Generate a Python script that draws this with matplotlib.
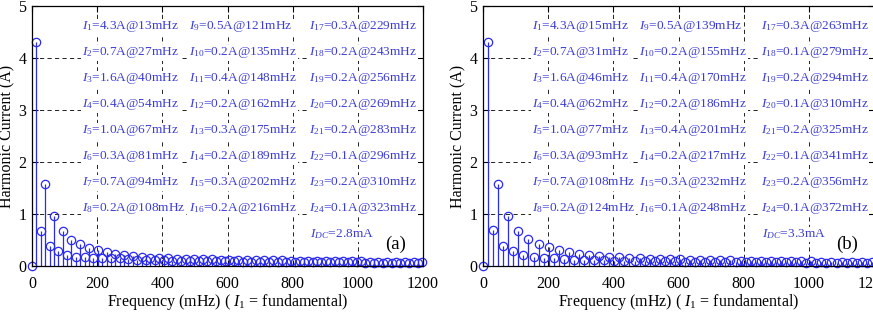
import matplotlib
matplotlib.use("Agg")
import matplotlib.pyplot as plt
import numpy as np

plt.rcParams['font.family'] = ['Liberation Serif', 'DejaVu Serif']
plt.rcParams['mathtext.fontset'] = 'custom'
plt.rcParams['mathtext.rm'] = 'Liberation Serif'
plt.rcParams['mathtext.it'] = 'Liberation Serif:italic'

# ---- data ----
f1_a = 13.46          # fundamental, mHz
f1_b = 15.5
dc_a = 0.0028         # A
dc_b = 0.0033

amps_a = [4.30, 0.68, 1.58, 0.38, 0.97, 0.29, 0.67, 0.22, 0.50, 0.18, 0.42, 0.17,
          0.34, 0.16, 0.30, 0.15, 0.27, 0.15, 0.23, 0.15, 0.21, 0.13, 0.19, 0.12,
          0.17, 0.12, 0.16, 0.11, 0.15, 0.11, 0.15, 0.10, 0.14, 0.10, 0.14, 0.10,
          0.13, 0.10, 0.13, 0.09, 0.13, 0.09, 0.12, 0.09,
          0.12, 0.09, 0.12, 0.08, 0.12, 0.08, 0.11, 0.08, 0.11, 0.08, 0.11, 0.08,
          0.11, 0.08, 0.10,
          0.08, 0.10, 0.07, 0.10, 0.07, 0.10, 0.07, 0.09, 0.07, 0.09, 0.07, 0.09,
          0.07, 0.09, 0.07, 0.09, 0.06, 0.08, 0.06, 0.08, 0.06, 0.08, 0.06, 0.08,
          0.06, 0.08, 0.06, 0.08, 0.06, 0.08]

amps_b = [4.30, 0.70, 1.58, 0.38, 0.97, 0.28, 0.68, 0.21, 0.51, 0.18, 0.42, 0.16,
          0.36, 0.15, 0.30, 0.13, 0.27, 0.12, 0.24, 0.12, 0.21, 0.11, 0.19, 0.11,
          0.18, 0.10, 0.17, 0.10, 0.16, 0.10, 0.15, 0.09, 0.14, 0.09, 0.14, 0.09,
          0.13, 0.09, 0.13, 0.08, 0.12, 0.08, 0.12, 0.08,
          0.11, 0.08, 0.11, 0.08, 0.11, 0.08, 0.10, 0.07, 0.10, 0.07, 0.10, 0.07,
          0.10, 0.07, 0.09, 0.07, 0.09, 0.07, 0.09, 0.06, 0.09, 0.06, 0.08, 0.06,
          0.08, 0.06, 0.08, 0.06, 0.08, 0.06, 0.08, 0.06, 0.08]

lab_amp_a = ['4.3', '0.7', '1.6', '0.4', '1.0', '0.3', '0.7', '0.2',
             '0.5', '0.2', '0.4', '0.2', '0.3', '0.2', '0.3', '0.2',
             '0.3', '0.2', '0.2', '0.2', '0.2', '0.1', '0.2', '0.1']
lab_freq_a = [13, 27, 40, 54, 67, 81, 94, 108, 121, 135, 148, 162, 175, 189, 202, 216,
              229, 243, 256, 269, 283, 296, 310, 323]
lab_amp_b = ['4.3', '0.7', '1.6', '0.4', '1.0', '0.3', '0.7', '0.2',
             '0.5', '0.2', '0.4', '0.2', '0.4', '0.2', '0.3', '0.1',
             '0.3', '0.1', '0.2', '0.1', '0.2', '0.1', '0.2', '0.1']
lab_freq_b = [15, 31, 46, 62, 77, 93, 108, 124, 139, 155, 170, 186, 201, 217, 232, 248,
              263, 279, 294, 310, 325, 341, 356, 372]

blue = '#2a2af0'
txt_blue = '#3c3cd4'


def panel(ax, f1, dc, amps, lab_amp, lab_freq, dc_text, tag, col_x):
    n = np.arange(1, len(amps) + 1)
    x = np.concatenate([[0.0], n * f1])
    y = np.concatenate([[dc], amps])
    ml, sl, bl = ax.stem(x, y, basefmt=' ')
    plt.setp(sl, color=blue, linewidth=0.9)
    plt.setp(ml, marker='o', markersize=6, markerfacecolor='none',
             markeredgecolor=blue, markeredgewidth=0.9, clip_on=False)
    ax.set_xlim(0, 1200)
    ax.set_ylim(0, 5)
    ax.set_xticks(range(0, 1201, 200))
    ax.set_yticks(range(0, 6))
    ax.grid(True, color='k', linestyle=(0, (5, 4)), linewidth=0.6)
    ax.set_axisbelow(True)
    ax.tick_params(direction='in', top=True, right=True, length=4,
                   labelsize=11.5)
    ax.tick_params(axis='x', pad=7)
    ax.tick_params(axis='y', pad=4)
    for s in ax.spines.values():
        s.set_linewidth(0.9)
    ax.set_xlabel(r'Frequency (mHz) ( $I_{\mathit{1}}$ = fundamental)', fontsize=11.5,
                  labelpad=0)
    ax.set_ylabel('Harmonic Current (A)', fontsize=11.5, labelpad=2)
    for k in range(24):
        col = k // 8
        row = k % 8
        s = r'$I_{\mathit{%d}}$=%sA@%dmHz' % (k + 1, lab_amp[k], lab_freq[k])
        ax.text(col_x[col], 4.55 - 0.5 * row, s, color=txt_blue, fontsize=9.6,
                ha='left', va='baseline', zorder=5,
                bbox=dict(facecolor='white', edgecolor='none', pad=0.6))
    ax.text(col_x[2] + 5, 0.55, r'$I_{\mathit{DC}}$=%s' % dc_text, color=txt_blue,
            fontsize=9.6, ha='left', va='baseline', zorder=5,
            bbox=dict(facecolor='white', edgecolor='none', pad=0.6))
    ax.text(1117, 0.42, tag, fontsize=13.5, ha='center', va='center', zorder=5)


fig = plt.figure(figsize=(8.73, 3.14), dpi=100)
ax1 = fig.add_axes([32 / 873, 48 / 314, 391 / 873, 260 / 314])
ax2 = fig.add_axes([483 / 873, 48 / 314, 391 / 873, 260 / 314])

panel(ax1, f1_a, dc_a, amps_a, lab_amp_a, lab_freq_a, '2.8mA', '(a)', [154, 483, 849])
panel(ax2, f1_b, dc_b, amps_b, lab_amp_b, lab_freq_b, '3.3mA', '(b)', [151, 480, 852])

fig.savefig('out.png', dpi=100)
